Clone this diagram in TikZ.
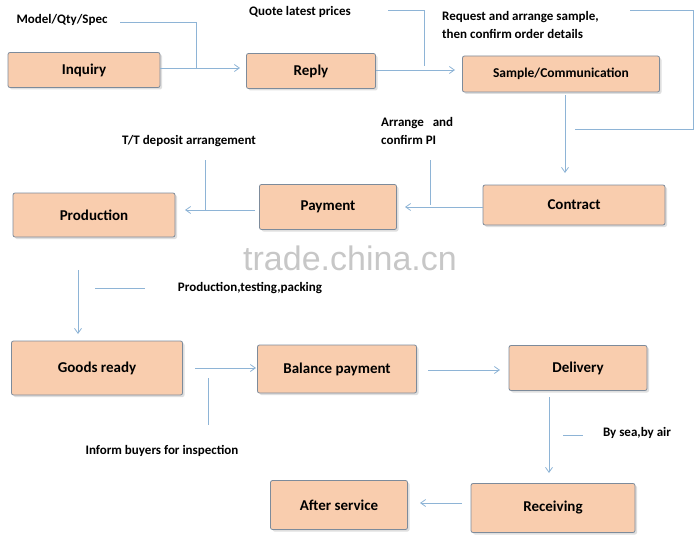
\documentclass[tikz,border=0pt]{standalone}
\usepackage{fontspec}
\setmainfont{Carlito}
\newfontfamily\wmfont{Liberation Sans}
\usetikzlibrary{shadows,arrows.meta}
\definecolor{peach}{HTML}{F9CDAE}
\definecolor{bord}{HTML}{7D8B9B}
\definecolor{conn}{HTML}{8EB4D6}
\begin{document}
\begin{tikzpicture}[x=1pt,y=-1pt,
  box/.style={draw=bord,line width=0.8pt,fill=peach,rounded corners=2pt,
    drop shadow={shadow xshift=2pt,shadow yshift=-2pt,fill=black!25},
    font=\bfseries\fontsize{15}{17}\selectfont,inner sep=0pt},
  lab/.style={font=\bfseries\fontsize{13}{15}\selectfont,align=left,inner sep=0pt},
  ln/.style={draw=conn,line width=0.8pt},
  ar/.style={ln,-{Straight Barb[length=5pt,width=7pt]}}]
\useasboundingbox (0,0) rectangle (700,540);
\node[box,minimum width=152pt,minimum height=35pt] (inq) at (84,70) {Inquiry};
\node[box,minimum width=129pt,minimum height=35pt] (rep) at (311,71) {Reply};
\node[box,minimum width=197pt,minimum height=36pt] (sam) at (561,74) {\fontsize{13.5}{15}\selectfont Sample/Communication};
\node[box,minimum width=182pt,minimum height=40pt] (con) at (574,205) {Contract};
\node[box,minimum width=137pt,minimum height=45pt] (pay) at (328,207) {Payment};
\node[box,minimum width=162pt,minimum height=44pt] (pro) at (94,215) {Production};
\node[box,minimum width=171pt,minimum height=54pt] (gds) at (97,368) {Goods ready};
\node[box,minimum width=159pt,minimum height=48pt] (bal) at (337,369) {Balance payment};
\node[box,minimum width=138pt,minimum height=45pt] (del) at (578,368) {Delivery};
\node[box,minimum width=164pt,minimum height=49pt] (rec) at (553,508) {Receiving};
\node[box,minimum width=137pt,minimum height=49pt] (aft) at (339,505) {After service};

\node[lab] (l1) at (62,20) {Model/Qty/Spec};
\node[lab] (l2) at (300,12) {Quote latest prices};
\node[lab,anchor=west] (l3) at (442,25) {Request and arrange sample,\\[3pt]then confirm order details};
\node[lab,anchor=west] (l4) at (381,131) {Arrange~~ and\\[3pt]confirm PI};
\node[lab] (l5) at (189,141) {T/T deposit arrangement};
\node[lab] (l6) at (250,288) {Production,testing,packing};
\node[lab] (l7) at (162,451) {Inform buyers for inspection};
\node[lab] (l8) at (637,433) {By sea,by air};
\node[font=\wmfont\fontsize{34}{36}\selectfont,text=black!22] (wm) at (350,258) {trade.china.cn};

\draw[ar] (160,68) -- (240,68);
\draw[ln] (120,22) -- (196,22) -- (196,68);
\draw[ar] (376,70) -- (455,70);
\draw[ln] (388,10) -- (424,10) -- (424,66);
\draw[ar] (565,95) -- (565,173);
\draw[ln] (575,129) -- (693,129) -- (693,10) -- (630,10);
\draw[ar] (483,207) -- (405,207);
\draw[ln] (430,160) -- (430,205);
\draw[ar] (255,210) -- (185,210);
\draw[ln] (205,160) -- (205,210);
\draw[ar] (78,270) -- (78,334);
\draw[ln] (95,288) -- (145,288);
\draw[ar] (195,368) -- (256,368);
\draw[ln] (208,378) -- (208,425);
\draw[ar] (428,370) -- (500,370);
\draw[ar] (549,397) -- (549,473);
\draw[ln] (563,435) -- (583,435);
\draw[ar] (462,503) -- (420,503);
\end{tikzpicture}
\end{document}
